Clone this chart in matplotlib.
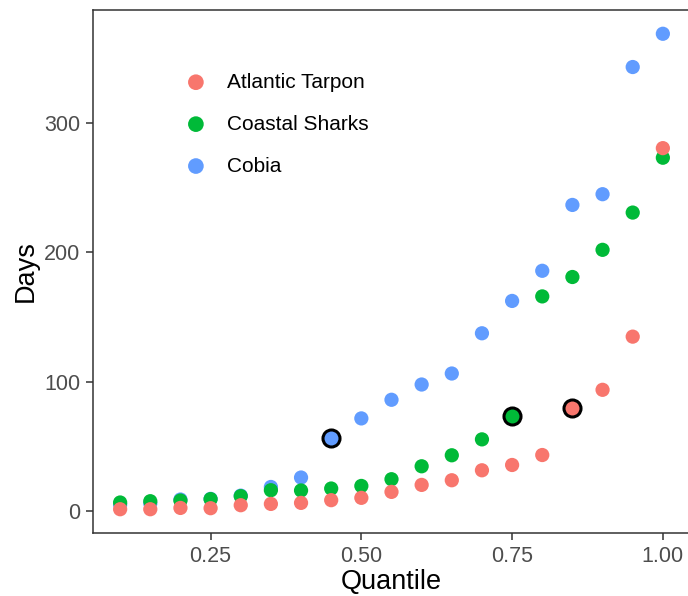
import matplotlib
matplotlib.use("Agg")
import matplotlib.pyplot as plt
import numpy as np

plt.rcParams['font.family'] = ['Liberation Sans', 'DejaVu Sans']

quantiles = [0.10, 0.15, 0.20, 0.25, 0.30, 0.35, 0.40, 0.45, 0.50, 0.55,
             0.60, 0.65, 0.70, 0.75, 0.80, 0.85, 0.90, 0.95, 1.00]
species = ["Atlantic Tarpon", "Coastal Sharks", "Cobia"]
tarpon = [1.5, 1.5, 2.5, 2.3, 4.6, 5.6, 6.4, 8.5, 10.3, 14.9,
          20.3, 23.9, 31.6, 35.7, 43.4, 80.0, 93.8, 134.9, 280.6]
sharks = [6.7, 7.7, 8.2, 9.3, 11.6, 16.2, 16.0, 17.5, 19.5, 24.7,
          34.7, 43.2, 55.5, 73.2, 166.0, 181.0, 202.0, 230.8, 273.2]
cobia = [5.0, 6.0, 9.0, 9.5, 12.0, 18.7, 26.0, 56.3, 71.7, 86.1,
         97.9, 106.4, 137.5, 162.5, 185.8, 236.7, 245.0, 343.3, 369.0]
highlight_q = [0.85, 0.75, 0.45]   # per species
colors = ["#F8766D", "#00BA38", "#619CFF"]
series = [tarpon, sharks, cobia]
zorders = [5, 4, 3]   # Tarpon drawn on top, Cobia underneath

W, H = 688, 596
fig = plt.figure(figsize=(W / 100, H / 100), dpi=100)
ax = fig.add_axes([93 / W, (H - 533) / H, (690 - 93) / W, (533 - 10) / H])

handles = []
for name, vals, col, hq, z in zip(species, series, colors, highlight_q, zorders):
    h = ax.scatter(quantiles, vals, s=105, color=col, edgecolors='none',
                   label=name, zorder=z)
    handles.append(h)
    i = quantiles.index(hq)
    ax.scatter([quantiles[i]], [vals[i]], s=150, facecolor=col,
               edgecolors='black', linewidths=2.2, zorder=10)

ax.margins(x=0.05, y=0.05)
ax.set_xticks([0.25, 0.50, 0.75, 1.00])
ax.set_xticklabels(["0.25", "0.50", "0.75", "1.00"])
ax.set_yticks([0, 100, 200, 300])
ax.tick_params(axis='both', direction='out', length=5, width=1.1,
               color='#333333', labelsize=15.5, labelcolor='#4D4D4D', pad=4)
for sp in ax.spines.values():
    sp.set_color('#333333')
    sp.set_linewidth(1.1)

ax.set_xlabel("Quantile", fontsize=19.5, color='black', labelpad=2)
ax.set_ylabel("Days", fontsize=19.5, color='black', labelpad=4)

leg = ax.legend(handles=handles, labels=species, loc='upper left',
                bbox_to_anchor=(0.12, 0.916), frameon=False, fontsize=15,
                handletextpad=0.9, labelspacing=1.1, markerscale=1.1,
                handlelength=1.2)

fig.savefig("out.png", dpi=100, facecolor='white')
